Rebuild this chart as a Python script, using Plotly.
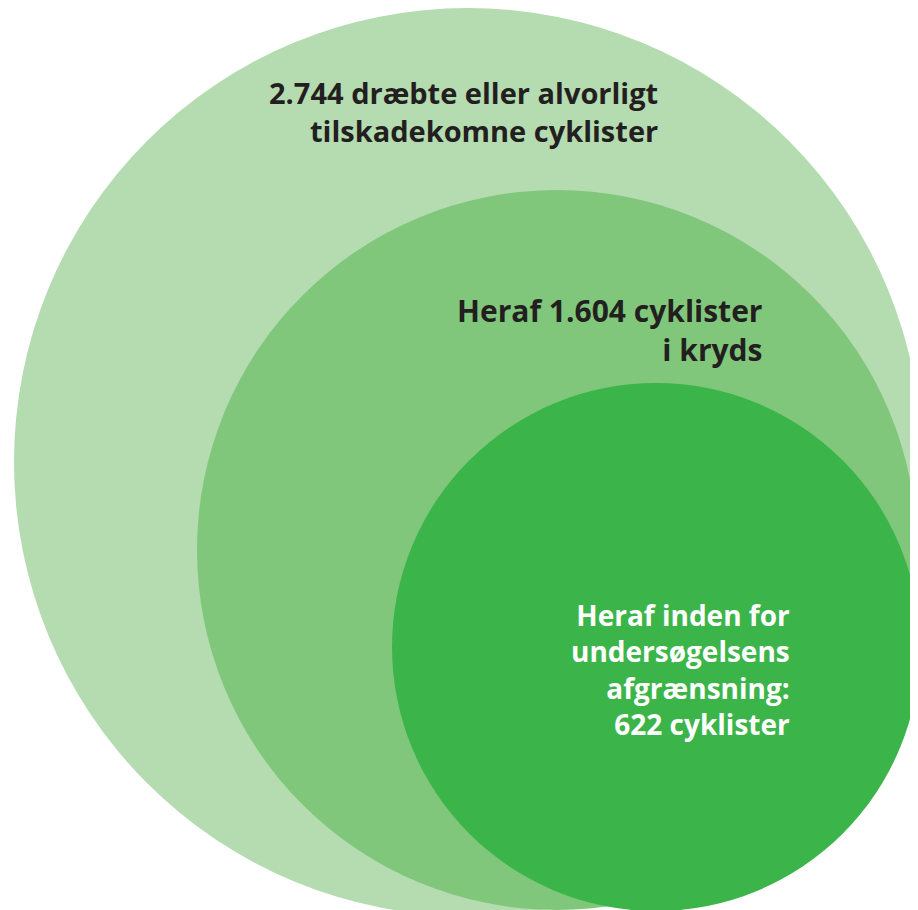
import plotly.graph_objects as go

# Data
labels = [
    "2.744 dræbte eller alvorligt<br>tilskadekomne cyklister",
    "Heraf 1.604 cyklister<br>i kryds",
    "Heraf inden for<br>undersøgelsens<br>afgrænsning:<br>622 cyklister",
]
counts = [2744, 1604, 622]

# Diagram geometry (pixel-like data units)
cx = [468, 557, 656]
cy = [462, 550, 647]
radius = [454, 360, 264]
colors = ["#b4dcb0", "#80c77b", "#3bb54a"]

label_x = [660, 764, 792]
label_y = [111, 330, 669]
label_color = ["#231f20", "#231f20", "#ffffff"]
label_size = [29, 30, 28]

# page has an 8px body margin; the figure fills the rest of the window
OFF = 8
W, H = 918, 910

fig = go.Figure()
fig.add_trace(go.Scatter(x=[OFF, W], y=[OFF, H], mode="markers",
                         marker=dict(opacity=0), hoverinfo="skip", showlegend=False))

for x0, y0, r, c in zip(cx, cy, radius, colors):
    fig.add_shape(type="circle", xref="x", yref="y",
                  x0=x0 - r, x1=x0 + r, y0=y0 - r, y1=y0 + r,
                  fillcolor=c, line=dict(width=0), layer="below")

for t, x, y, col, s in zip(labels, label_x, label_y, label_color, label_size):
    fig.add_annotation(x=x, y=y, xref="x", yref="y", text=t, showarrow=False,
                       xanchor="right", yanchor="middle", align="right",
                       font=dict(family="Open Sans", size=s, color=col, weight="bold"))

fig.update_xaxes(range=[OFF, W], visible=False, fixedrange=True)
fig.update_yaxes(range=[H, OFF], visible=False, fixedrange=True)
fig.update_layout(width=W - OFF, height=H - OFF, margin=dict(l=0, r=0, t=0, b=0),
                  paper_bgcolor="white", plot_bgcolor="white", showlegend=False)

fig.write_html("out.html")
